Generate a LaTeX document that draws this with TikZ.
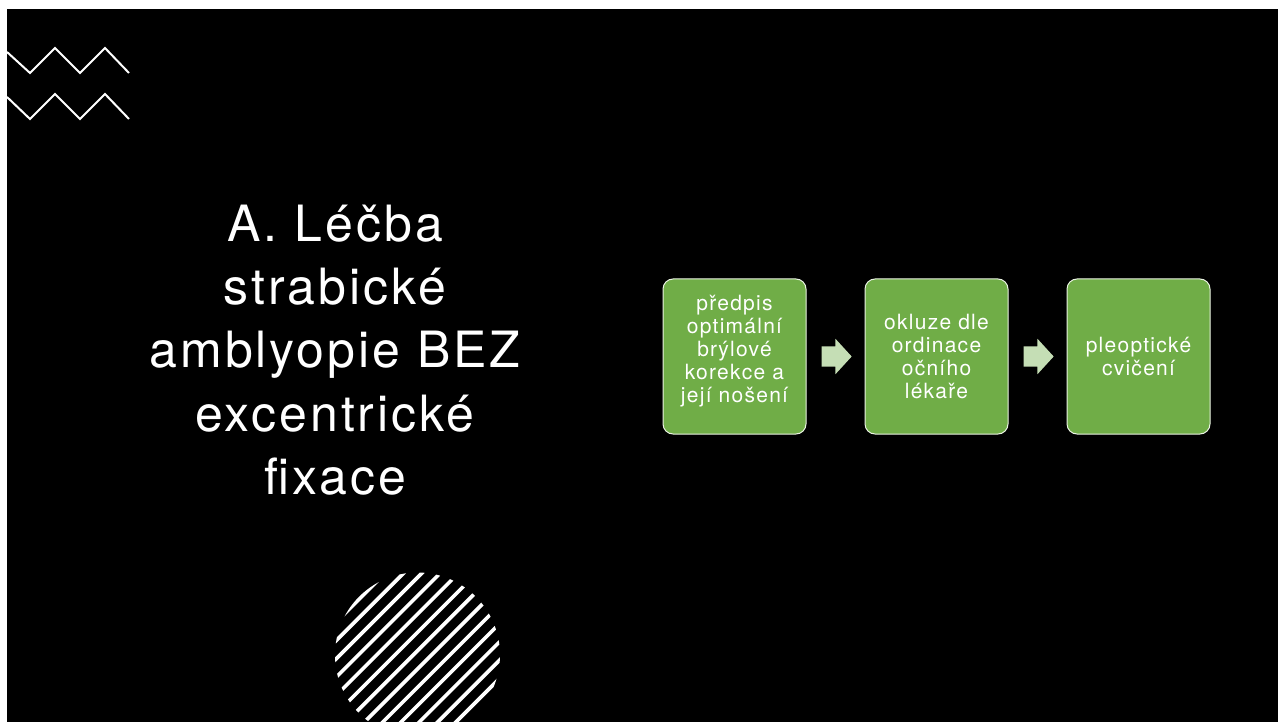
\documentclass[tikz,border=0pt]{standalone}
\usepackage{fontspec}
\setmainfont{TeX Gyre Heros}[LetterSpace=6]
\usetikzlibrary{positioning, calc, shapes.arrows}
\definecolor{boxgreen}{HTML}{70AD47}
\definecolor{arrowgreen}{HTML}{C5DEB5}

\begin{document}
\begin{tikzpicture}[x=1pt, y=-1pt,
    stepbox/.style={fill=boxgreen, draw=white!85!boxgreen, line width=1pt, rounded corners=10pt,
      minimum width=143pt, minimum height=155pt, inner sep=2pt, text=white, align=center,
      font=\fontsize{21}{23}\selectfont},
    flowarrow/.style={single arrow, fill=arrowgreen, draw=none, inner sep=0pt,
      minimum height=30pt, single arrow head extend=7.5pt, single arrow tip angle=95},
    zigzag/.style={white, line width=2pt}]
    \useasboundingbox (0,0) rectangle (1278,722);
    \fill[white] (0,0) rectangle (1278,722);
    \fill[black] (7,9) rectangle (1278,722);
    % zigzags top left
    \draw[zigzag] (7,52) -- (30,73) -- (55,48) -- (80,73) -- (105,48) -- (129,73);
    \draw[zigzag] (7,97) -- (30,119) -- (55,94) -- (80,119) -- (105,94) -- (129,119);
    % hatched circle
    \begin{scope}
      \clip (417.5,655) circle (82.5);
      \foreach \k in {-3,...,12}
        \draw[white, line width=3.6pt] ({320},{976.7+18.3*\k-320}) -- ({530},{976.7+18.3*\k-530});
    \end{scope}
    % title
    \node[text=white, align=center, inner sep=0pt, font=\fontsize{50}{63.3}\selectfont] (title) at (335,350)
      {A. Léčba\\strabické\\amblyopie BEZ\\excentrické\\fixace};
    % steps
    \node[stepbox, text depth=15.5pt] (box1) at (734.5,356.5) {předpis\\optimální\\brýlové\\korekce a\\její nošení};
    \node[stepbox, right=58pt of box1] (box2) {okluze dle\\ordinace\\očního\\lékaře};
    \node[stepbox, right=58pt of box2] (box3) {pleoptické\\cvičení};
    \node[flowarrow] (arr1) at ($(box1.east)!0.5!(box2.west)+(-3.5,0)$) {\rule{0pt}{20pt}};
    \node[flowarrow] (arr2) at ($(box2.east)!0.5!(box3.west)+(-3.5,0)$) {\rule{0pt}{20pt}};
\end{tikzpicture}
\end{document}
